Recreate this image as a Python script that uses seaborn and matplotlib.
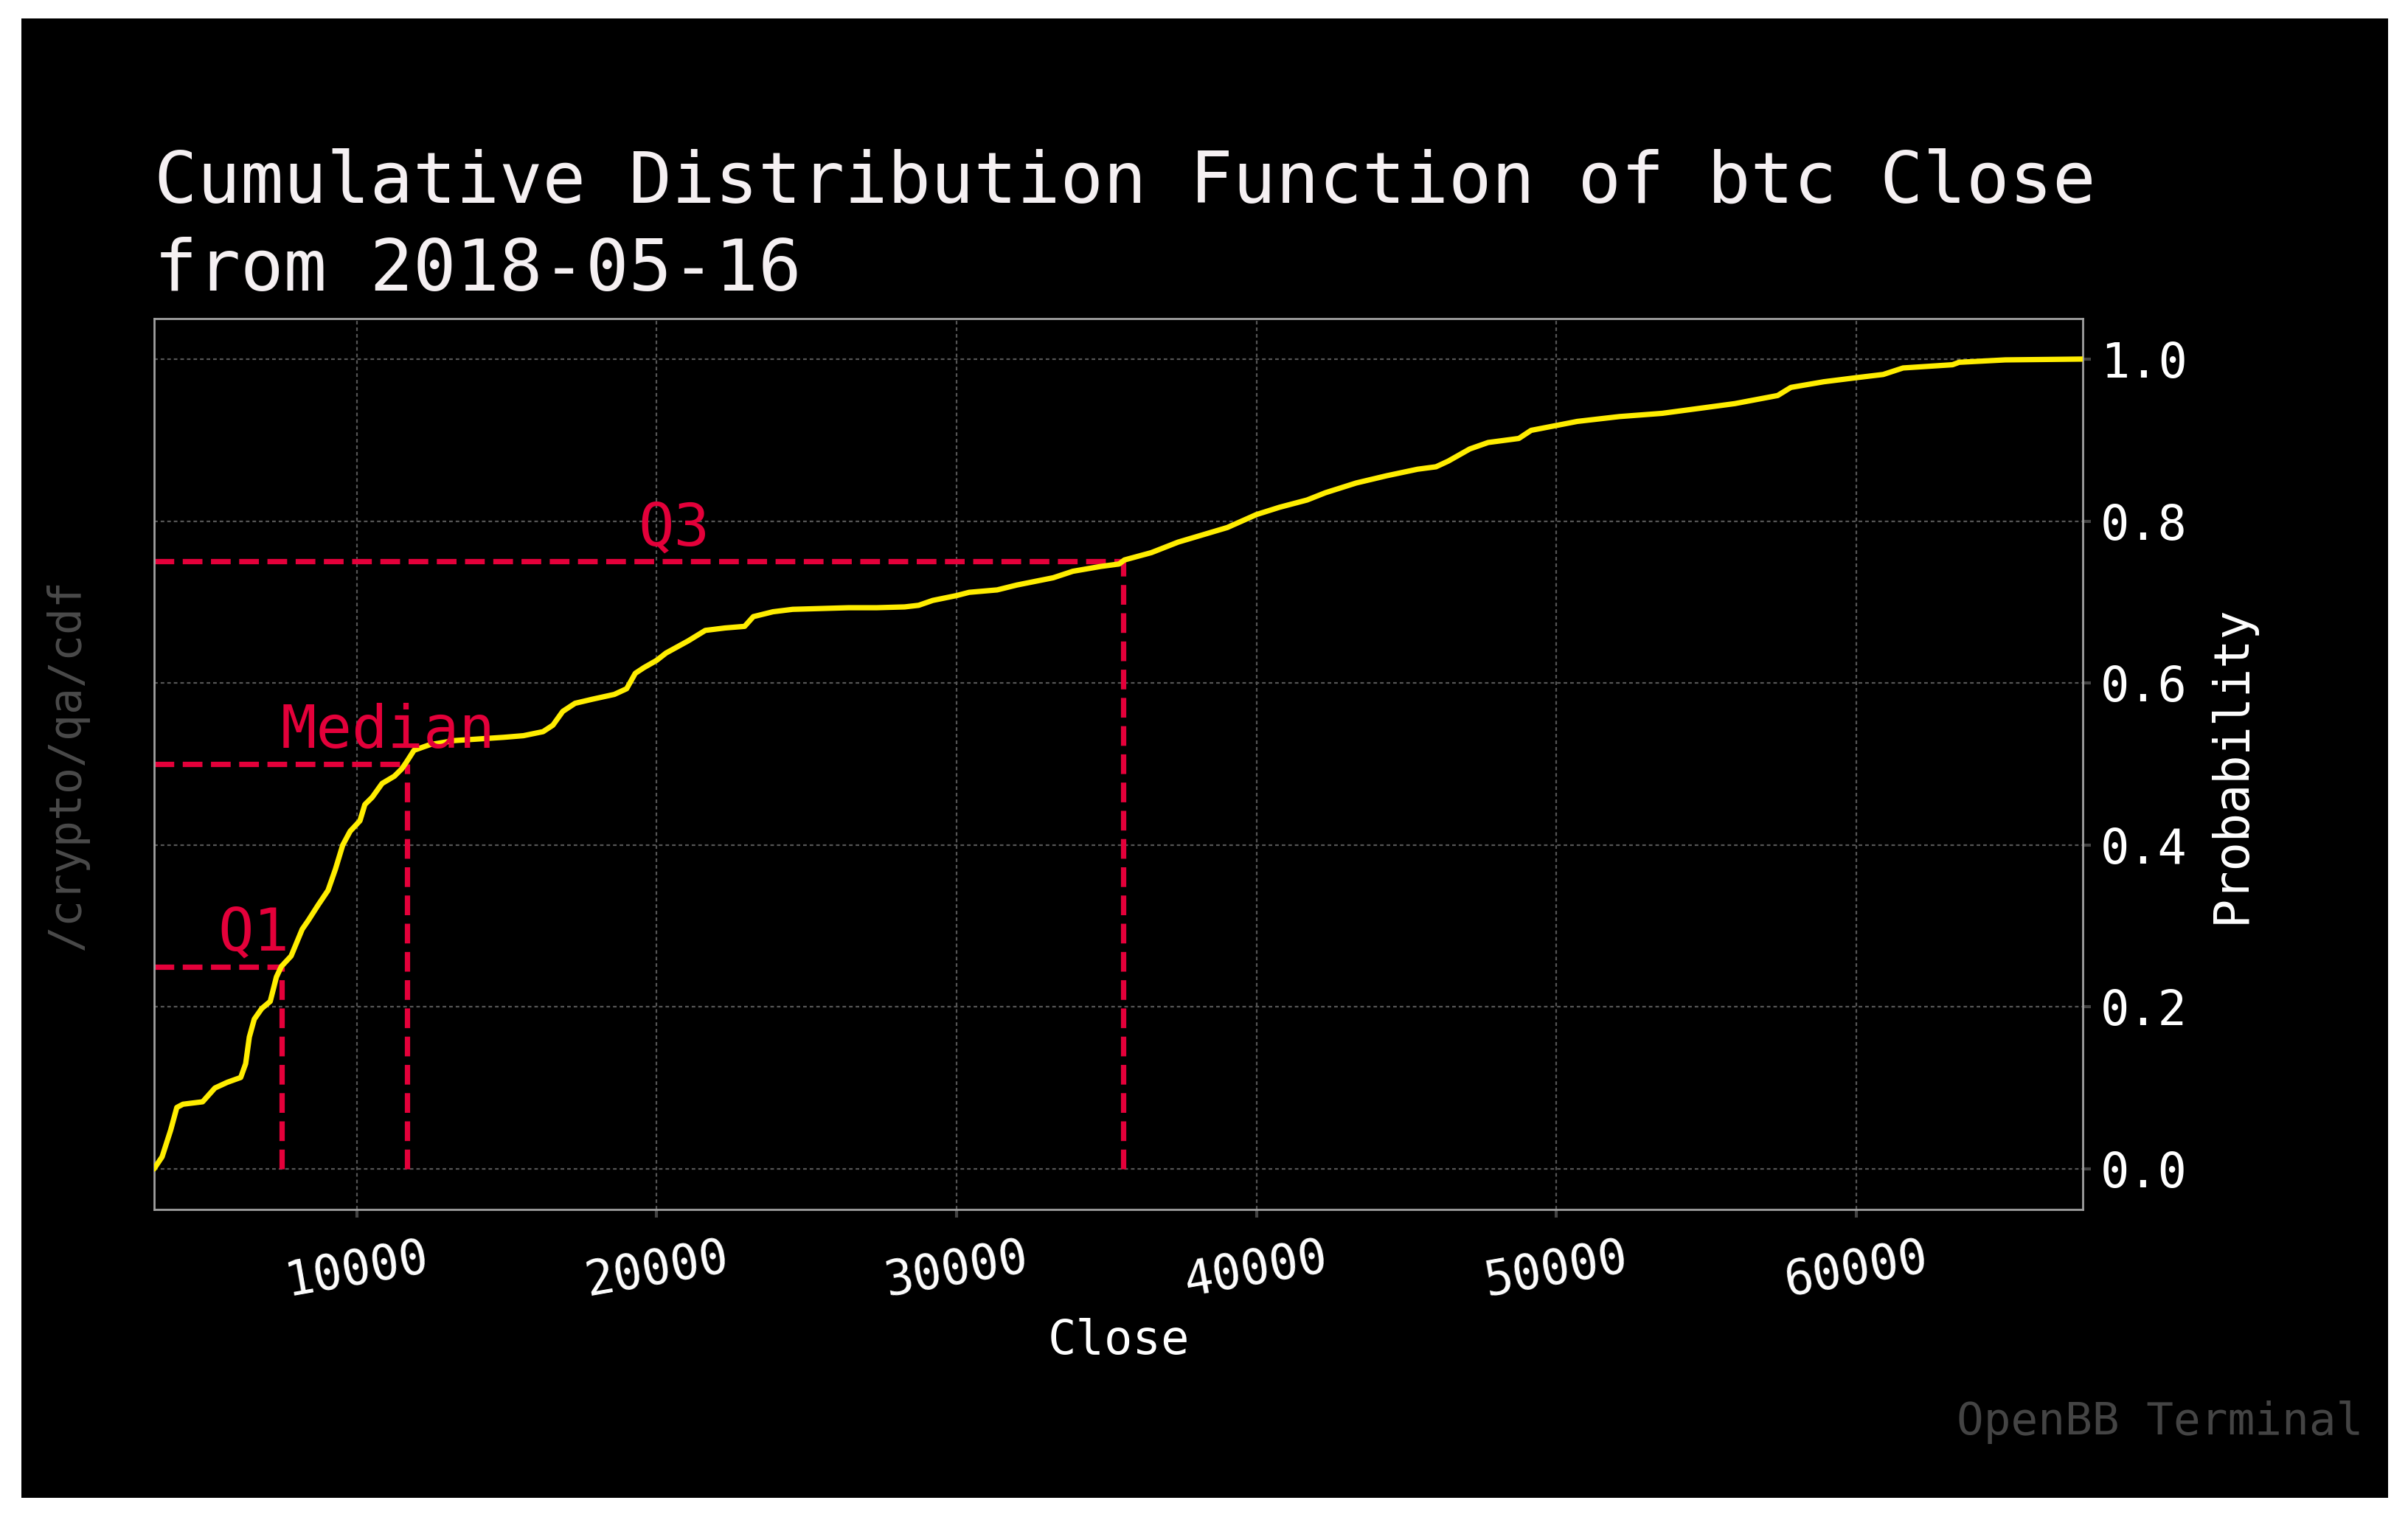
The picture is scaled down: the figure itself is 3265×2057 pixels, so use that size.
import matplotlib
matplotlib.use("Agg")
import matplotlib.pyplot as plt
import seaborn as sns
from matplotlib.patches import Rectangle

# cumulative distribution of btc close
close = [3236, 3508, 3795, 4000, 4205, 4860, 5270, 5680, 6130, 6295,
         6418, 6582, 6828, 7115, 7320, 7484, 7811, 8180, 8385, 8713,
         9041, 9287, 9533, 9779, 10107, 10270, 10516, 10844, 11254, 11500,
         11650, 11910, 12443, 13262, 14082, 14902, 15557, 16213, 16541, 16869,
         17279, 17852, 18590, 19000, 19287, 19574, 20000, 20311, 21049, 21623,
         22279, 22934, 23224, 23879, 24533, 25467, 26402, 27336, 28271, 28738,
         29206, 30000, 30421, 31355, 32009, 33224, 33879, 34813, 35421, 35600,
         36495, 37390, 38209, 39028, 40000, 40768, 41689, 42303, 43327, 44350,
         45374, 45988, 46397, 47114, 47728, 48751, 49161, 50000, 50696, 52101,
         53531, 54741, 55952, 57382, 57822, 58922, 60000, 60902, 61562, 63212,
         63432, 64972, 67566]
prob = [0.000, 0.015, 0.048, 0.076, 0.080, 0.083, 0.100, 0.107, 0.113, 0.130,
        0.163, 0.185, 0.198, 0.207, 0.237, 0.250, 0.263, 0.296, 0.307, 0.326,
        0.344, 0.370, 0.400, 0.417, 0.430, 0.450, 0.459, 0.476, 0.485, 0.494,
        0.502, 0.517, 0.524, 0.529, 0.531, 0.533, 0.535, 0.540, 0.548, 0.565,
        0.575, 0.580, 0.586, 0.593, 0.612, 0.619, 0.628, 0.637, 0.652, 0.665,
        0.668, 0.670, 0.682, 0.688, 0.691, 0.692, 0.693, 0.693, 0.694, 0.696,
        0.702, 0.708, 0.712, 0.715, 0.721, 0.730, 0.738, 0.744, 0.747, 0.752,
        0.761, 0.774, 0.783, 0.792, 0.808, 0.817, 0.826, 0.835, 0.847, 0.856,
        0.864, 0.867, 0.874, 0.889, 0.897, 0.902, 0.912, 0.918, 0.923, 0.929,
        0.933, 0.939, 0.945, 0.955, 0.965, 0.972, 0.977, 0.981, 0.989, 0.993,
        0.996, 0.999, 1.000]

min_close = 3236
quart_close = [7490, 11670, 35560]
quart_prob = [0.25, 0.5, 0.75]
quart_names = ["Q1", "Median", "Q3"]

red = "#e4003a"
yellow = "#ffed00"

sns.set_theme(style="dark", rc={
    "axes.facecolor": "black",
    "figure.facecolor": "white",
    "axes.edgecolor": "#a0a0a0",
    "text.color": "white",
    "axes.labelcolor": "white",
    "xtick.color": "white",
    "ytick.color": "white",
})
plt.rcParams["font.family"] = ["DejaVu Sans Mono", "DejaVu Sans"]

fig = plt.figure(figsize=(16.33, 10.285), dpi=200)
fig.patches.append(Rectangle((0.009, 0.0125), 0.9825, 0.9755,
                             transform=fig.transFigure, facecolor="black",
                             edgecolor="none", zorder=-5))
ax = fig.add_axes([0.0639, 0.2027, 0.8009, 0.5873])

sns.lineplot(x=close, y=prob, ax=ax, color=yellow, lw=2.6, zorder=3)

for qx, qy, name in zip(quart_close, quart_prob, quart_names):
    ax.plot([min_close, qx], [qy, qy], ls="--", color=red, lw=2.6, zorder=2)
    ax.plot([qx, qx], [0, qy], ls="--", color=red, lw=2.6, zorder=2)
    ax.text(min_close + (qx - min_close) / 2, qy + 0.02, name,
            color=red, fontsize=29)

ax.set_xlim(close[0], close[-1])
ax.set_ylim(-0.05, 1.05)
ax.grid(True, color="#555555", ls=(0, (2.2, 1.8)), lw=0.8)
for sp in ax.spines.values():
    sp.set_color("#a0a0a0")
    sp.set_linewidth(1.0)

ax.yaxis.tick_right()
ax.yaxis.set_label_position("right")
ax.tick_params(axis="both", which="major", labelsize=23.5, length=4,
               width=1.5, color="#444444", pad=8, bottom=True, right=True)
ax.tick_params(axis="y", pad=4.5)
ax.tick_params(axis="x", labelrotation=10)
ax.set_yticks([0.0, 0.2, 0.4, 0.6, 0.8, 1.0])
ax.set_yticklabels(["0.0", "0.2", "0.4", "0.6", "0.8", "1.0"])

ax.set_xlabel("Close", fontsize=23, labelpad=6)
ax.set_ylabel("Probability", fontsize=23.5, labelpad=10)
ax.set_title("Cumulative Distribution Function of btc Close\nfrom 2018-05-16",
             loc="left", fontsize=35, color="#f5f0f2", pad=13.7,
             linespacing=1.34)

fig.text(0.981, 0.0545, "OpenBB Terminal", ha="right", va="baseline",
         color="#444444", fontsize=22)
fig.text(0.0276, 0.496, "/crypto/qa/cdf", rotation=90, ha="center",
         va="center", color="#4a4a4a", fontsize=21.5)

fig.savefig("out.png", dpi=200, facecolor="white")
